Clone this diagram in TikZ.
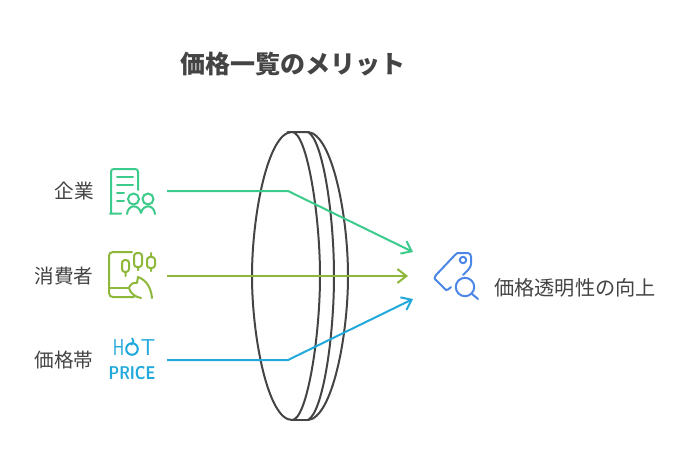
\documentclass[tikz,border=0pt]{standalone}
\usepackage{fontspec}
\usepackage{graphicx}
\setmainfont{Noto Sans CJK JP}
\usetikzlibrary{arrows.meta}
\definecolor{ink}{HTML}{444444}
\definecolor{cgreen}{HTML}{3CCB8A}
\definecolor{colive}{HTML}{8DB83A}
\definecolor{cblue}{HTML}{22A9DC}
\definecolor{ciblue}{HTML}{4C86E6}
\tikzset{
 x=1pt,y=-1pt,
 lbl/.style={font=\fontsize{19.6}{22}\selectfont,text=ink,inner sep=0pt},
 lens/.style={draw=ink,line width=2pt},
 conn/.style={line width=2pt,-{Straight Barb[length=9pt,width=14pt,line width=2pt]}},
 ico/.style={line width=2pt,line cap=round,line join=round},
}
\begin{document}
\begin{tikzpicture}
\useasboundingbox (0,0) rectangle (684,468);
\fill[white] (0,0) rectangle (684,468);
\node[inner sep=0pt,text=ink,font=\fontsize{25}{28}\bfseries\selectfont] (title) at (293,64) {価格一覧のメリット};
% lens
\draw[lens] (292,132) .. controls (268,132) and (252,215) .. (252,276) .. controls (252,337) and (268,420) .. (292,420) .. controls (307,420) and (320,337) .. (320,276) .. controls (320,215) and (307,132) .. (292,132) -- (308,132);
\draw[lens] (292,420) -- (308,420);
\draw[lens] (308,132) .. controls (323,140) and (334,215) .. (334,276) .. controls (334,337) and (323,412) .. (308,420);
\draw[lens] (308,132) .. controls (332,134) and (348,215) .. (348,276) .. controls (348,337) and (332,418) .. (308,420);
% labels
\node[lbl] (a) at (74,191) {企業};
\node[lbl] (b) at (64,276) {消費者};
\node[lbl] (c) at (64,360) {価格帯};
\node[lbl,anchor=west,font=\fontsize{20.2}{22}\selectfont] (r) at (494,288) {価格透明性の向上};
% free ends
\coordinate (s1) at (167,191); \coordinate (k1) at (288,191); \coordinate (e1) at (413,252);
\coordinate (s2) at (167,276); \coordinate (e2) at (408,276);
\coordinate (s3) at (167,360); \coordinate (k3) at (288,360); \coordinate (e3) at (413,299);
\draw[conn,cgreen] (s1) -- (k1) -- (e1);
\draw[conn,colive] (s2) -- (e2);
\draw[conn,cblue] (s3) -- (k3) -- (e3);
% icon 1
\begin{scope}[ico]
\draw[cgreen] (121,213.5) -- (110,213.5) (111,213.5) -- (111,172) .. controls (111,170) and (112,169) .. (114,169) -- (135,169) .. controls (137,169) and (138,170) .. (138,172) -- (138,190);
\draw[cgreen] (117,177) -- (133,177) (117,185) -- (133,185) (117,193) -- (124,193) (117,201) -- (124,201);
\draw[cgreen] (133.5,199) circle (5.5) (148,199) circle (5.5);
\draw[cgreen] (127,214) .. controls (128,204) and (139,204) .. (141,213) .. controls (143,204) and (154,204) .. (155,214);
\end{scope}
% icon 2
\begin{scope}[ico]
\draw[colive] (132,252) -- (113,252) .. controls (110,252) and (109,254) .. (109,256) -- (109,293) .. controls (109,296) and (111,297) .. (113,297) -- (134,297);
\draw[colive] (109,288) -- (128,288);
\draw[colive,rounded corners=3pt] (122,260) rectangle (129,272) (125.5,272) -- (125.5,276);
\draw[colive,rounded corners=3pt] (134,253) rectangle (142,267) (138,267) -- (138,270);
\draw[colive,rounded corners=3pt] (147,257) rectangle (155,268) (151,257) -- (151,253) (151,268) -- (151,271);
\draw[colive] (152,298) .. controls (151,287) and (146,280) .. (138,277) -- (137,283) .. controls (134,282) and (130,284) .. (129,288) .. controls (130,293) and (135,297) .. (141,298);
\end{scope}
% icon 3
\node[inner sep=0pt,text=cblue,font=\sffamily\fontsize{23}{24}\selectfont] (hot1) at (118.5,347.5) {\scalebox{.75}[1]{H}};
\node[inner sep=0pt,text=cblue,font=\sffamily\fontsize{23}{24}\selectfont] (hot2) at (148,347.5) {\scalebox{1}[1]{T}};
\draw[cblue,line width=2pt] (132,349) circle (5.8);
\draw[cblue,line width=1.8pt] (131,345) .. controls (134,342) and (134,340) .. (132,338);
\node[inner sep=0pt,text=cblue,font=\sffamily\bfseries\fontsize{18.5}{20}\selectfont] (price) at (132,373.5) {\scalebox{.82}[1]{PRICE}};
% icon 4
\begin{scope}[ico]
\draw[ciblue] (446,290) -- (437,281) .. controls (434,279) and (434,277) .. (436,275) -- (455,255) .. controls (456,253) and (458,253) .. (460,253) -- (468,253) .. controls (470,253) and (471,255) .. (471,257) -- (471,264) .. controls (471,266) and (470,268) .. (468,270) -- (463,275);
\draw[ciblue] (463,260) circle (3.2);
\draw[ciblue] (446,290) .. controls (448,290) and (449,289) .. (451,287);
\draw[ciblue] (465,287) circle (9.2);
\draw[ciblue] (472,294) -- (478,299);
\end{scope}
\end{tikzpicture}
\end{document}
